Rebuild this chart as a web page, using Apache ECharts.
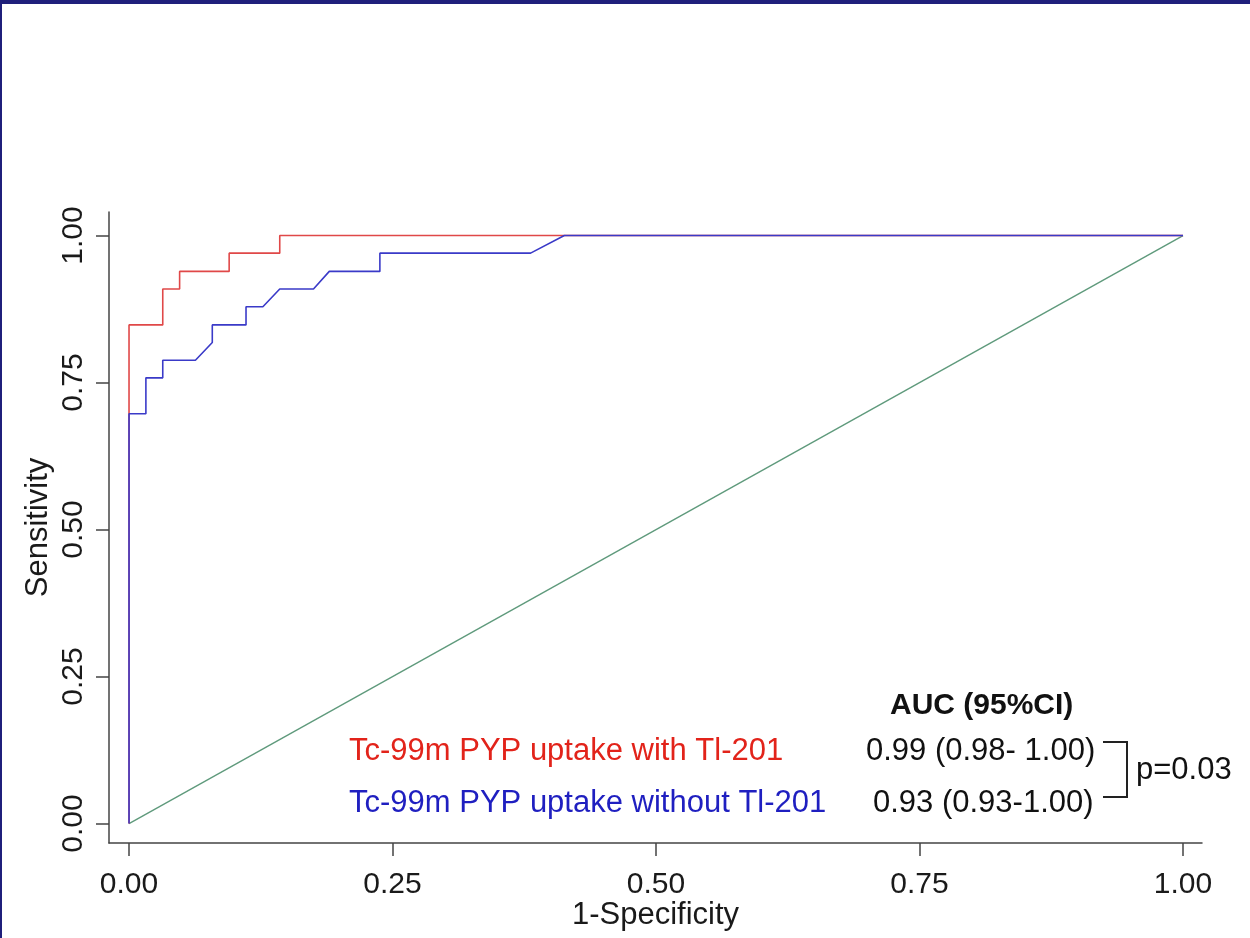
<!DOCTYPE html>
<html>
<head>
<meta charset="utf-8">
<script src="https://cdn.jsdelivr.net/npm/echarts@6/dist/echarts.min.js"></script>
<style>
  html, body { margin: 0; padding: 0; background: #fff; }
  #chart { position: absolute; left: 0; top: 0; width: 1250px; height: 938px; }
  #frame { position: absolute; left: 0; top: 0; width: 1248px; height: 934px;
           border-top: 4px solid #1f1f7b; border-left: 2px solid #1f1f7b; pointer-events: none; }
</style>
</head>
<body>
<div id="chart"></div>
<div id="frame"></div>
<script>
// ROC points: [1-specificity, sensitivity]
const withTl = [
  [0, 0], [0, 0.848], [0.032, 0.848], [0.032, 0.909], [0.048, 0.909],
  [0.048, 0.939], [0.095, 0.939], [0.095, 0.970], [0.143, 0.970],
  [0.143, 1], [1, 1]
];
const withoutTl = [
  [0, 0], [0, 0.697], [0.016, 0.697], [0.016, 0.758], [0.032, 0.758],
  [0.032, 0.788], [0.063, 0.788], [0.079, 0.818], [0.079, 0.848],
  [0.111, 0.848], [0.111, 0.879], [0.127, 0.879], [0.143, 0.909],
  [0.175, 0.909], [0.190, 0.939], [0.238, 0.939], [0.238, 0.970],
  [0.381, 0.970], [0.413, 1], [1, 1]
];
const chanceLine = [[0, 0], [1, 1]];
const tickValues = [0, 0.25, 0.5, 0.75, 1];

const legendNames = ['Tc-99m PYP uptake with Tl-201', 'Tc-99m PYP uptake without Tl-201'];
const aucText = ['0.99 (0.98- 1.00)', '0.93 (0.93-1.00)'];
const pText = 'p=0.03';

const FONT = '"Liberation Sans", Arial, sans-serif';
const RED = '#e2231a';
const BLUE = '#1f1fc0';

let myChart = echarts.init(document.getElementById('chart'));

let option = {
  animation: false,
  backgroundColor: '#fff',
  grid: { left: 109, right: 48, top: 212, bottom: 95, containLabel: false, outerBoundsMode: 'none' },
  xAxis: {
    type: 'value',
    min: -0.019,
    max: 1.018,
    name: '1-Specificity',
    nameLocation: 'middle',
    nameGap: 57,
    nameMoveOverlap: false,
    nameTextStyle: { fontSize: 31, color: '#1a1a1a', fontFamily: FONT },
    axisLine: { show: true, onZero: false, lineStyle: { color: '#444', width: 1.5 } },
    axisTick: { show: true, inside: false, customValues: tickValues, length: 13, lineStyle: { color: '#444', width: 1.5 } },
    axisLabel: {
      customValues: tickValues,
      formatter: v => v.toFixed(2),
      fontSize: 30, color: '#1a1a1a', fontFamily: FONT, margin: 27
    },
    splitLine: { show: false }
  },
  yAxis: {
    type: 'value',
    min: -0.033,
    max: 1.04,
    name: 'Sensitivity',
    nameLocation: 'middle',
    nameRotate: 90,
    nameGap: 55,
    nameMoveOverlap: false,
    nameTextStyle: { fontSize: 31, color: '#1a1a1a', fontFamily: FONT },
    axisLine: { show: true, onZero: false, lineStyle: { color: '#444', width: 1.5 } },
    axisTick: { show: true, inside: false, customValues: tickValues, length: 13, lineStyle: { color: '#444', width: 1.5 } },
    axisLabel: {
      customValues: tickValues,
      formatter: v => v.toFixed(2),
      rotate: 90,
      fontSize: 30, color: '#1a1a1a', fontFamily: FONT, margin: 20
    },
    splitLine: { show: false }
  },
  series: [
    {
      name: 'chance',
      type: 'line',
      data: chanceLine,
      showSymbol: false,
      lineStyle: { color: '#5f9a7c', width: 1.4 }
    },
    {
      name: legendNames[0],
      type: 'line',
      data: withTl,
      showSymbol: false,
      lineStyle: { color: '#e04848', width: 1.6 }
    },
    {
      name: legendNames[1],
      type: 'line',
      data: withoutTl,
      showSymbol: false,
      lineStyle: { color: '#3a3ac8', width: 1.6 }
    }
  ],
  graphic: [
    { type: 'text', left: 890, top: 691, style: { text: 'AUC (95%CI)', font: 'bold 30px ' + FONT, fill: '#111' } },
    { type: 'text', left: 349, top: 736, style: { text: legendNames[0], font: '31px ' + FONT, fill: RED } },
    { type: 'text', left: 866, top: 736, style: { text: aucText[0], font: '31px ' + FONT, fill: '#111' } },
    { type: 'text', left: 349, top: 788, style: { text: legendNames[1], font: '31px ' + FONT, fill: BLUE } },
    { type: 'text', left: 873, top: 788, style: { text: aucText[1], font: '31px ' + FONT, fill: '#111' } },
    { type: 'text', left: 1136, top: 755, style: { text: pText, font: '31px ' + FONT, fill: '#111' } },
    {
      type: 'polyline',
      shape: { points: [[1103, 742], [1127, 742], [1127, 797], [1103, 797]] },
      style: { stroke: '#222', lineWidth: 2, fill: null }
    }
  ]
};

myChart.setOption(option);
</script>
</body>
</html>
